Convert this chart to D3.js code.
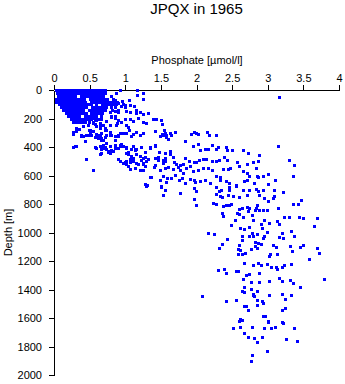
<!DOCTYPE html>
<html><head><meta charset="utf-8">
<script src="https://cdn.jsdelivr.net/npm/d3@7"></script>
<style>body{margin:0;background:#fff}svg{display:block}</style>
</head><body><svg id="chart" width="345" height="384"></svg>
<script>
const title = "JPQX in 1965";
const xLabel = "Phosphate [\u00b5mol/l]";
const yLabel = "Depth [m]";
const xTicks = [0, 0.5, 1, 1.5, 2, 2.5, 3, 3.5, 4];
const yTicks = [0, 200, 400, 600, 800, 1000, 1200, 1400, 1600, 1800, 2000];

// [phosphate µmol/l, depth m]
const surfaceBlob = [
 [0.04,5],[0.08,5],[0.12,5],[0.16,5],[0.20,5],[0.24,5],[0.28,5],[0.32,5],[0.36,5],[0.40,5],[0.44,5],[0.48,5],[0.52,5],[0.56,5],[0.60,5],[0.64,5],[0.68,5],[0.72,5],
 [0.05,25],[0.09,25],[0.13,25],[0.17,25],[0.21,25],[0.25,25],[0.29,25],[0.33,25],[0.37,25],[0.41,25],[0.45,25],[0.49,25],[0.53,25],[0.57,25],[0.61,25],[0.65,25],[0.69,25],[0.72,25],
 [0.06,45],[0.10,45],[0.14,45],[0.18,45],[0.22,45],[0.26,45],[0.30,45],[0.38,45],[0.42,45],[0.46,45],[0.50,45],[0.54,45],[0.58,45],[0.62,45],[0.66,45],[0.70,45],[0.80,45],
 [0.03,65],[0.07,65],[0.11,65],[0.15,65],[0.19,65],[0.23,65],[0.27,65],[0.31,65],[0.35,65],[0.39,65],[0.43,65],[0.51,65],[0.55,65],[0.59,65],[0.63,65],[0.67,65],[0.71,65],[0.75,65],[0.84,65],
 [0.04,85],[0.08,85],[0.12,85],[0.16,85],[0.20,85],[0.24,85],[0.28,85],[0.32,85],[0.36,85],[0.40,85],[0.44,85],[0.52,85],[0.56,85],[0.60,85],[0.64,85],[0.68,85],[0.72,85],[0.76,85],[0.80,85],[0.84,85],[0.88,85],
 [0.08,105],[0.12,105],[0.16,105],[0.20,105],[0.24,105],[0.28,105],[0.32,105],[0.36,105],[0.40,105],[0.44,105],[0.48,105],[0.52,105],[0.60,105],[0.68,105],[0.72,105],[0.76,105],[0.80,105],[0.84,105],[0.88,105],[0.98,105],
 [0.10,125],[0.14,125],[0.18,125],[0.22,125],[0.26,125],[0.30,125],[0.34,125],[0.38,125],[0.42,125],[0.46,125],[0.54,125],[0.58,125],[0.62,125],[0.66,125],[0.70,125],[0.74,125],[0.80,125],[0.86,125],[1.00,125],
 [0.14,145],[0.18,145],[0.22,145],[0.26,145],[0.30,145],[0.34,145],[0.38,145],[0.42,145],[0.50,145],[0.54,145],[0.58,145],[0.62,145],[0.66,145],[0.70,145],[0.82,145],[0.90,145],
 [0.17,165],[0.21,165],[0.25,165],[0.29,165],[0.33,165],[0.37,165],[0.41,165],[0.45,165],[0.53,165],[0.57,165],[0.61,165],[0.65,165],[0.68,165],
 [0.20,185],[0.24,185],[0.28,185],[0.32,185],[0.36,185],[0.44,185],[0.48,185],[0.52,185],[0.56,185],[0.60,185],[0.66,185],[0.80,185],[0.86,185],
 [0.24,205],[0.28,205],[0.32,205],[0.36,205],[0.40,205],[0.44,205],[0.48,205],[0.52,205],[0.58,205],[0.62,205],
 [0.28,225],[0.32,225],[0.36,225],[0.40,225],[0.44,225],[0.50,225],[0.56,225],
 [0.32,269],[0.41,257],[0.48,246],[0.55,234],[0.60,257],[0.51,281],[0.65,269],[0.72,281],[0.79,246],[0.88,246],
 [0.39,328],[0.46,316],[0.51,304],[0.60,316],[0.65,328],[0.72,335],[0.79,316],[0.90,316],[0.93,304]
];

const upperPoints = [
 [0.69,0],[0.88,24],[0.94,5],[1.17,5],[1.26,28],[1.17,42],[1.25,66],[0.60,75],[0.65,82],[0.74,94],
 [0.83,82],[0.90,94],[0.96,82],[1.00,112],[1.06,75],[1.07,108],[1.13,117],[1.16,141],[0.95,117],[0.81,87],
 [0.86,75],[0.89,89],[0.65,136],[0.72,145],[0.79,155],[0.86,152],[0.90,159],[1.02,152],[1.08,159],[1.16,164],
 [1.21,159],[1.26,169],[1.32,164],[0.55,199],[0.67,206],[0.74,222],[0.81,192],[0.86,199],[0.90,211],[1.00,206],
 [1.07,206],[1.12,222],[1.18,199],[1.30,234],[1.25,229],[0.89,234],[0.95,229],[0.65,234],[0.60,211],[0.70,246],
 [0.58,241],[0.65,257],[0.50,281],[0.55,293],[0.60,309],[0.67,304],[0.65,328],[0.72,269],[0.74,286],[0.79,300],
 [0.62,339],[0.81,316],[0.86,328],[0.87,351],[0.90,323],[0.98,304],[1.02,304],[1.09,323],[1.11,309],[1.16,300],
 [1.21,316],[1.25,304],[1.02,246],[1.04,262],[1.06,281],[0.27,300],[0.32,293],[0.36,276],[0.27,405],[0.31,393],
 [0.45,491],[0.55,562],[0.67,351],[0.69,386],[0.74,374],[0.70,410],[0.67,421],[0.73,421],[0.79,398],[0.86,386],
 [0.90,410],[0.93,386],[0.95,379],[0.98,398],[1.02,410],[1.09,421],[1.14,428],[1.16,421],[1.02,445],[1.04,456],
 [1.09,468],[1.11,480],[1.16,452],[0.90,491],[0.93,503],[0.97,519],[1.02,503],[1.07,491],[1.11,503],[1.16,515],
 [1.18,526],[1.25,482],[1.26,515],[1.28,538],[1.21,468],[0.76,433],[0.79,445],[0.83,433],[0.65,456],[0.67,449],
 [1.04,538],[1.07,557],[1.14,550],[1.21,562],[1.25,566],[1.30,503],[1.32,491],[1.28,660],[1.30,674],
 [0.28,403],[0.30,398],[0.56,562],[0.38,321],[0.42,328],[0.49,321],[0.53,316],[0.58,332],[0.63,321],[0.67,337],
 [0.74,316],[0.70,351],[0.44,360],[0.58,403],[0.60,414],[0.65,398],[0.72,403],[0.65,454],[0.77,438],[0.28,309],
 [0.93,398],[1.02,407],[1.11,398],[1.23,403],[1.35,407],[1.42,391],[1.28,438],[1.04,438],[0.81,426],[0.86,414],
 [1.14,421],[1.46,473],[1.42,484],[1.56,484],[1.53,515],[1.60,543],[1.28,473],[1.23,496],[1.25,520],[1.07,508],
 [1.00,508],[1.02,520],[1.35,613],[1.49,636],[1.58,648],[1.31,672],[1.51,679],[1.53,321],[1.58,332]
];

const midPoints = [
 [3.16,55],[1.40,206],[1.44,206],[1.51,215],[1.52,239],[1.42,293],[1.55,281],[1.57,304],[1.52,309],[1.49,323],
 [1.58,321],[1.63,304],[1.65,316],[1.71,300],[1.93,309],[1.97,300],[2.00,304],[2.03,311],[2.15,297],[2.18,321],
 [2.28,318],[1.85,361],[1.60,346],[1.42,393],[1.35,410],[2.03,379],[1.96,398],[2.06,426],[2.12,421],[2.17,417],
 [2.22,391],[2.28,421],[2.31,403],[2.42,405],[2.43,426],[2.50,424],[3.15,396],[2.66,424],[2.73,449],[2.88,459],
 [1.48,440],[1.56,449],[1.63,435],[1.64,454],[1.68,473],[1.43,482],[1.47,492],[1.54,492],[1.57,499],[1.69,510],
 [1.72,520],[1.77,529],[1.82,524],[1.85,482],[1.90,501],[1.97,510],[2.00,510],[2.04,496],[2.10,487],[2.14,485],
 [2.22,501],[2.28,499],[2.32,494],[2.39,471],[2.44,492],[2.57,506],[2.61,534],[2.71,520],[2.80,506],[2.87,501],
 [3.30,494],[3.38,529],[1.42,529],[1.41,543],[1.49,566],[1.56,550],[1.61,543],[1.68,557],[1.75,543],[1.78,562],
 [1.82,585],[1.86,552],[1.91,534],[1.96,573],[2.03,562],[2.10,550],[2.17,552],[2.23,562],[2.28,609],[2.33,616],
 [2.38,557],[2.45,555],[2.48,550],[2.66,573],[2.71,585],[2.75,604],[2.84,552],[2.85,609],[2.87,613],[2.94,609],
 [3.01,590],[3.36,606],[1.37,613],[1.54,604],[1.59,620],[1.65,623],[1.70,599],[1.76,637],[1.81,623],[1.85,655],
 [1.91,627],[1.97,632],[1.99,646],[2.05,641],[2.12,637],[2.19,655],[2.28,609],[2.33,632],[2.42,639],[2.47,655],
 [2.56,679],[2.68,639],[2.71,632],[2.81,655],[3.11,632],[1.51,683],[1.56,702],[1.53,739],[1.77,728],[1.97,693],
 [2.00,709],[2.28,683],[2.32,711],[2.35,702],[2.46,683],[2.47,702],[2.56,667],[2.66,702],[2.75,702],[2.84,697],
 [2.87,714],[2.94,702],[3.01,660],[3.10,707],[3.22,721],[2.28,735],[2.33,749],[2.37,756],[2.45,737],[2.52,749],
 [2.61,756],[2.71,737],[2.89,737],[2.96,761],[3.01,782],[3.08,758],[3.10,744],[1.97,768],[2.00,814],[2.24,796],
 [2.28,800],[2.38,819],[2.42,810],[2.46,814],[2.49,800],[2.60,838],[2.64,831],[2.71,824],[2.75,831],[2.84,829],
 [2.85,810],[2.94,847],[2.99,847],[3.15,833],[2.36,866],[2.38,889],[2.58,866],[2.61,877],[2.66,894],[2.73,854],
 [2.78,884],[2.83,847],[2.89,847],[3.24,898],[3.31,894],[3.36,800],[3.43,800],[3.48,777],[3.45,894],[3.50,903],
 [3.70,901]
];

const deepPoints = [
 [2.55,917],[2.80,917],[2.96,917],[3.14,922],[3.03,936],[2.91,943],[3.16,945],[2.49,952],[2.74,964],[2.62,973],
 [2.67,978],[2.92,971],[3.66,957],[2.17,1010],[2.25,1013],[2.43,1048],[2.36,1081],[2.32,1111],[2.64,1025],[2.64,1057],
 [2.75,1025],[2.78,1010],[2.80,1029],[2.86,1013],[2.94,1041],[2.96,1029],[3.00,999],[3.17,1034],[3.21,1006],[3.22,1041],
 [3.38,1027],[3.34,994],[2.83,1069],[2.87,1076],[2.91,1081],[2.60,1088],[2.59,1118],[2.62,1128],[2.64,1151],[2.59,1151],
 [2.69,1146],[2.77,1116],[2.83,1099],[2.86,1114],[3.08,1090],[3.12,1104],[3.02,1170],[3.04,1156],[3.14,1153],[3.32,1099],
 [3.35,1132],[3.46,1104],[3.50,1090],[3.70,1114],[3.72,1146],[3.58,1188],[2.67,1216],[2.80,1233],[2.87,1216],[2.91,1233],
 [3.00,1228],[3.05,1244],[3.12,1244],[3.13,1259],[3.21,1244],[3.23,1230],[3.33,1223],[2.31,1266],[2.39,1259],[2.42,1287],
 [2.56,1275],[2.59,1275],[2.70,1301],[2.74,1296],[2.88,1287],[2.66,1333],[2.77,1350],[2.88,1350],[3.02,1343],[3.17,1324],
 [3.20,1343],[3.32,1336],[3.36,1357],[3.79,1333],[2.67,1385],[2.77,1397],[2.64,1413],[2.67,1420],[2.86,1413],[2.80,1432],
 [2.81,1450],[2.80,1441],[3.02,1441],[3.20,1432],[3.33,1439],[3.46,1387],[2.08,1446],[2.42,1485],[2.56,1476],[2.85,1476],
 [2.92,1483],[2.94,1497],[3.25,1469],[2.67,1516],[2.70,1518],[2.86,1511],[2.73,1549],[3.20,1544],[3.25,1532],[2.94,1586],
 [2.97,1591],[2.62,1609],[2.65,1621],[2.61,1628],[3.01,1628],[3.01,1633],[3.20,1633],[3.22,1642],[2.52,1677],[2.62,1665],
 [2.79,1665],[2.95,1672],[3.05,1672],[3.11,1665],[3.38,1672],[2.67,1708],[2.73,1736],[2.81,1745],[2.85,1771],[2.93,1736],
 [3.26,1750],[3.42,1764],[3.00,1836],[2.78,1862],[2.77,1904]
];

const svg = d3.select("#chart");
const font = "'Liberation Sans', Arial, Helvetica, sans-serif";
const x = d3.scaleLinear().domain([0, 4]).range([54, 339]);
const y = d3.scaleLinear().domain([0, 2000]).range([90, 375]);

svg.append("text").attr("x", 196.5).attr("y", 14).attr("text-anchor", "middle")
  .attr("font-family", font).attr("font-size", 15).attr("fill", "#000").text(title);

svg.append("text").attr("x", 197).attr("y", 64).attr("text-anchor", "middle")
  .attr("font-family", font).attr("font-size", 11).attr("fill", "#000").text(xLabel);

svg.append("text").attr("transform", "translate(12,232.5) rotate(-90)").attr("text-anchor", "middle")
  .attr("font-family", font).attr("font-size", 11).attr("fill", "#000").text(yLabel);

const xAxis = svg.append("g").attr("transform", "translate(0,90)")
  .call(d3.axisTop(x).tickValues(xTicks).tickFormat(d => String(d)).tickSize(5).tickSizeOuter(0).tickPadding(3));
const yAxis = svg.append("g").attr("transform", "translate(54,0)")
  .call(d3.axisLeft(y).tickValues(yTicks).tickFormat(d => String(d)).tickSize(5).tickSizeOuter(0).tickPadding(7));
[xAxis, yAxis].forEach(g => {
  g.selectAll("text").attr("font-family", font).attr("font-size", 11).attr("fill", "#000");
  g.selectAll("line,path").attr("stroke", "#000").attr("shape-rendering", "crispEdges");
});

const all = surfaceBlob.concat(upperPoints, midPoints, deepPoints);
svg.append("g").attr("fill", "#0000ff").attr("shape-rendering", "crispEdges")
  .selectAll("rect").data(all).join("rect")
  .attr("x", d => x(d[0]) - 1.5).attr("y", d => y(d[1]) - 1.5)
  .attr("width", 3).attr("height", 3);
</script></body></html>
